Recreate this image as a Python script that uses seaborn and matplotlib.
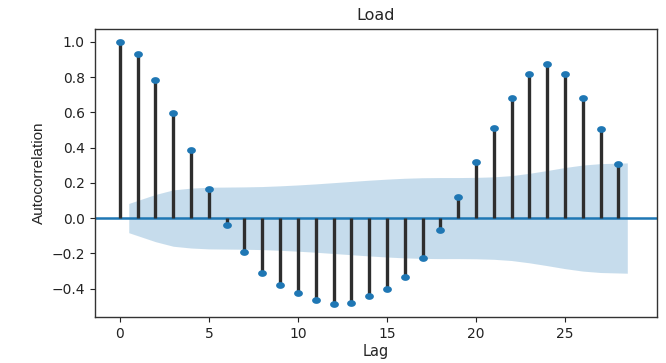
import numpy as np
import pandas as pd
import matplotlib
matplotlib.use("Agg")
import matplotlib.pyplot as plt
from matplotlib.path import Path
import seaborn as sns

lags = list(range(29))
acf_values = [1.000, 0.932, 0.781, 0.594, 0.384, 0.167, -0.037, -0.195, -0.309,
              -0.382, -0.428, -0.466, -0.488, -0.481, -0.443, -0.405, -0.337,
              -0.226, -0.065, 0.120, 0.316, 0.513, 0.684, 0.820, 0.874, 0.820,
              0.684, 0.505, 0.309]
# confidence band half-width for lags 1..28 (band drawn from 0.5 to 28.5)
band_x = [0.5] + list(range(2, 28)) + [28.5]
band_half = [0.083, 0.134, 0.160, 0.170, 0.175, 0.176, 0.177, 0.179, 0.183,
             0.188, 0.194, 0.201, 0.208, 0.215, 0.221, 0.226, 0.229, 0.230,
             0.230, 0.231, 0.234, 0.241, 0.254, 0.270, 0.287, 0.301, 0.309,
             0.313]
title = "Load"
xlabel = "Lag"
ylabel = "Autocorrelation"

sns.set_style("ticks")
plt.rcParams['font.family'] = ['DejaVu Sans']

df = pd.DataFrame({"lag": lags, "acf": acf_values})

# slightly wide elliptical marker like the reference
t = np.linspace(0, 2 * np.pi, 40)
ell = Path(np.column_stack([1.3 * np.cos(t), np.sin(t)]), closed=True)

fig = plt.figure(figsize=(6.66, 3.63), dpi=100)
ax = fig.add_axes([0.142, 0.126, 0.844, 0.795])

bx = np.array(band_x, dtype=float)
bh = np.array(band_half)
ax.fill_between(bx, -bh, bh, color="#1f77b4", alpha=0.25, linewidth=0)
ax.axhline(0, color="#1f77b4", linewidth=1.8, zorder=2)
ax.vlines(df["lag"], 0, df["acf"], color="#2e2e2e", linewidth=2.4, zorder=3)
sns.scatterplot(data=df, x="lag", y="acf", ax=ax, color="#1f77b4", s=40,
                marker=ell, edgecolor="#1f77b4", linewidth=0, zorder=4)

ax.set_xlim(-1.42, 30.15)
ax.set_ylim(-0.563, 1.075)
ax.set_xticks([0, 5, 10, 15, 20, 25])
ax.set_yticks([-0.4, -0.2, 0.0, 0.2, 0.4, 0.6, 0.8, 1.0])
ax.set_yticklabels(["\u22120.4", "\u22120.2", "0.0", "0.2", "0.4", "0.6", "0.8", "1.0"])
ax.tick_params(labelsize=10, colors="#222222")
for s in ax.spines.values():
    s.set_visible(True)
    s.set_color("#333333")
    s.set_linewidth(1.0)
ax.set_title(title, fontsize=11.5, pad=6)
ax.set_xlabel(xlabel, fontsize=10.5, labelpad=2)
ax.set_ylabel(ylabel, fontsize=11, labelpad=4,
              family=['Liberation Sans Narrow', 'Liberation Sans', 'DejaVu Sans'])

fig.savefig("out.png", dpi=100)
